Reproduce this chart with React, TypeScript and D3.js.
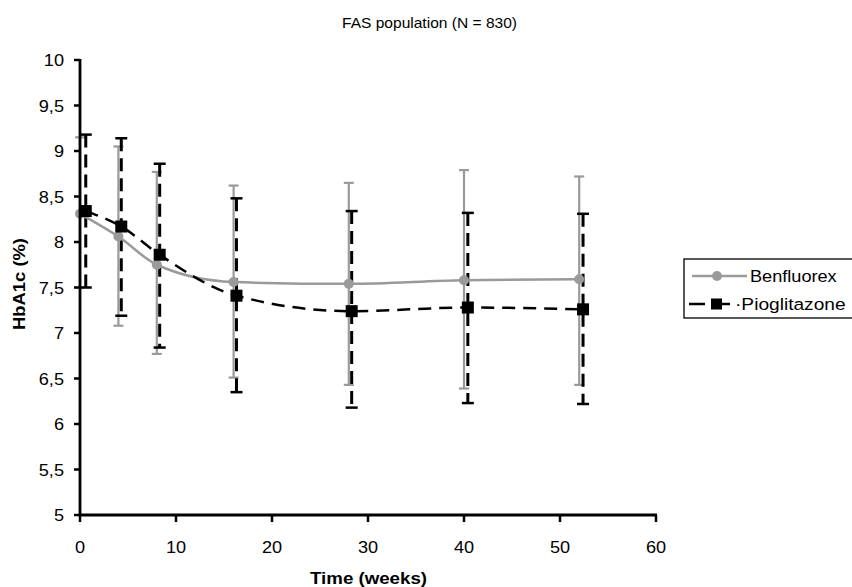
import React from "react";
import * as d3 from "d3";

const weeksB = [0, 4, 8, 16, 28, 40, 52];
const meanB = [8.31, 8.06, 7.75, 7.56, 7.54, 7.58, 7.59];
const upperB = [9.15, 9.05, 8.77, 8.62, 8.65, 8.79, 8.72];
const lowerB = [7.5, 7.08, 6.77, 6.51, 6.43, 6.39, 6.43];

const weeksP = [0.6, 4.3, 8.3, 16.3, 28.3, 40.4, 52.4];
const meanP = [8.34, 8.17, 7.86, 7.41, 7.24, 7.28, 7.26];
const upperP = [9.18, 9.14, 8.86, 8.48, 8.34, 8.32, 8.31];
const lowerP = [7.5, 7.19, 6.84, 6.35, 6.18, 6.23, 6.22];

const xTicks = [0, 10, 20, 30, 40, 50, 60];
const yTicks = [5, 5.5, 6, 6.5, 7, 7.5, 8, 8.5, 9, 9.5, 10];

const W = 852, H = 587;
const FONT = "Liberation Sans, Arial, sans-serif";
const GRAY = "#9a9a9a";
const SX = 1.1;

export default function App() {
  const x = d3.scaleLinear().domain([0, 60]).range([80, 656]);
  const y = d3.scaleLinear().domain([5, 10]).range([515, 60]);
  const fmt = (v: number) => String(v).replace(".", ",");

  const lineB = d3.line<number>().x((_, i) => x(weeksB[i])).y((d) => y(d)).curve(d3.curveMonotoneX);
  const lineP = d3.line<number>().x((_, i) => x(weeksP[i])).y((d) => y(d)).curve(d3.curveMonotoneX);

  return (
    <svg width={W} height={H} style={{ position: "absolute", left: 0, top: 0, background: "#fff" }}>
      <rect width={W} height={H} fill="#fff" />
      <text x={342} y={28} fontFamily={FONT} fontSize={14.5} textLength={175} lengthAdjust="spacingAndGlyphs">FAS population (N = 830)</text>

      {/* Benfluorex error bars */}
      {weeksB.map((w, i) => (
        <g key={"eb" + i} stroke={GRAY} strokeWidth={2.2}>
          <line x1={x(w)} x2={x(w)} y1={y(upperB[i])} y2={y(lowerB[i])} />
          <line x1={x(w) - 5} x2={x(w) + 5} y1={y(upperB[i])} y2={y(upperB[i])} />
          <line x1={x(w) - 5} x2={x(w) + 5} y1={y(lowerB[i])} y2={y(lowerB[i])} />
        </g>
      ))}
      {/* Pioglitazone error bars */}
      {weeksP.map((w, i) => (
        <g key={"ep" + i} stroke="#000">
          <line x1={x(w)} x2={x(w)} y1={y(upperP[i])} y2={y(lowerP[i])} strokeWidth={3} strokeDasharray="13,7" />
          <line x1={x(w) - 6} x2={x(w) + 6} y1={y(upperP[i])} y2={y(upperP[i])} strokeWidth={2.5} />
          <line x1={x(w) - 6} x2={x(w) + 6} y1={y(lowerP[i])} y2={y(lowerP[i])} strokeWidth={2.5} />
        </g>
      ))}

      <path d={lineB(meanB) || ""} fill="none" stroke={GRAY} strokeWidth={2.5} />
      <path d={lineP(meanP) || ""} fill="none" stroke="#000" strokeWidth={2.5} strokeDasharray="13,8" />

      {weeksB.map((w, i) => (
        <circle key={"mb" + i} cx={x(w)} cy={y(meanB[i])} r={5} fill={GRAY} />
      ))}
      {weeksP.map((w, i) => (
        <rect key={"mp" + i} x={x(w) - 6} y={y(meanP[i]) - 6} width={12} height={12} fill="#000" />
      ))}

      {/* axes */}
      <line x1={80} x2={80} y1={59} y2={516} stroke="#000" strokeWidth={2.8} />
      <line x1={79} x2={657} y1={515} y2={515} stroke="#000" strokeWidth={2.8} />
      {yTicks.map((t) => (
        <g key={"yt" + t}>
          <line x1={74} x2={80} y1={y(t)} y2={y(t)} stroke="#000" strokeWidth={2.5} />
          <text transform={`translate(64,${y(t) + 6}) scale(${SX},1)`} textAnchor="end" fontFamily={FONT} fontSize={16.5}>{fmt(t)}</text>
        </g>
      ))}
      {xTicks.map((t) => (
        <g key={"xt" + t}>
          <line x1={x(t)} x2={x(t)} y1={515} y2={522} stroke="#000" strokeWidth={2.5} />
          <text transform={`translate(${x(t)},553) scale(${SX},1)`} textAnchor="middle" fontFamily={FONT} fontSize={16.5}>{t}</text>
        </g>
      ))}
      <text x={310} y={584} fontFamily={FONT} fontSize={16} fontWeight="bold" textLength={117} lengthAdjust="spacingAndGlyphs">Time (weeks)</text>
      <text transform="translate(25,330) rotate(-90)" fontFamily={FONT} fontSize={16} fontWeight="bold" textLength={92} lengthAdjust="spacingAndGlyphs">HbA1c (%)</text>

      {/* legend */}
      <rect x={684} y={259} width={180} height={59} fill="#fff" stroke="#000" strokeWidth={1.3} />
      <line x1={692} x2={747} y1={276} y2={276} stroke={GRAY} strokeWidth={2.5} />
      <circle cx={717} cy={276} r={5} fill={GRAY} />
      <text transform={`translate(750,282) scale(${SX},1)`} fontFamily={FONT} fontSize={16.5}>Benfluorex</text>
      <line x1={689} x2={705} y1={304} y2={304} stroke="#000" strokeWidth={2.5} />
      <line x1={722} x2={730} y1={304} y2={304} stroke="#000" strokeWidth={2.5} />
      <rect x={711} y={298.5} width={11} height={11} fill="#000" />
      <text transform={`translate(735,310) scale(1.16,1)`} fontFamily={FONT} fontSize={16.5}>·Pioglitazone</text>
    </svg>
  );
}
